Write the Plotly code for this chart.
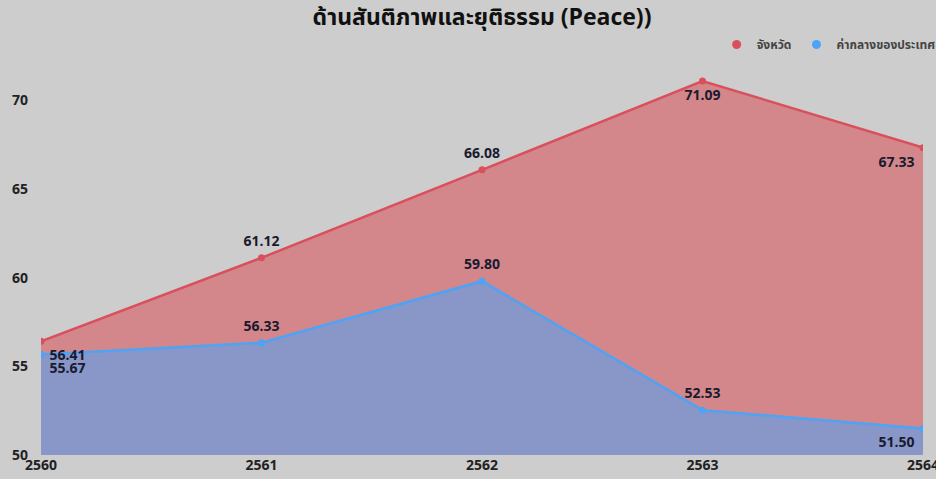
import plotly.graph_objects as go

years = ["2560", "2561", "2562", "2563", "2564"]
province = [56.41, 61.12, 66.08, 71.09, 67.33]
national = [55.67, 56.33, 59.80, 52.53, 51.50]
series_names = ["จังหวัด", "ค่ากลางของประเทศ"]
title_text = "ด้านสันติภาพและยุติธรรม (Peace))"
ytick_vals = [50, 55, 60, 65, 70]

x_idx = list(range(len(years)))
font_fam = "Noto Sans Thai, Noto Sans, Open Sans, sans-serif"
red = "#d9505c"
blue = "#4da3f5"
lbl_font = dict(size=14, color="#1a1a2e", family=font_fam, weight="bold")

fig = go.Figure()
fig.add_trace(go.Scatter(
    x=x_idx, y=province, name=series_names[0], mode="lines+markers",
    line=dict(color=red, width=2.5), marker=dict(size=7, color=red),
    fill="tozeroy", fillcolor="#d3878b", showlegend=False,
))
fig.add_trace(go.Scatter(
    x=x_idx, y=national, name=series_names[1], mode="lines+markers",
    line=dict(color=blue, width=2.5), marker=dict(size=7, color=blue),
    fill="tozeroy", fillcolor="#8896c8", showlegend=False,
))
# data labels drawn on top
fig.add_trace(go.Scatter(
    x=x_idx, y=province, mode="markers+text", showlegend=False, cliponaxis=False, hoverinfo="skip",
    marker=dict(size=12, opacity=0),
    text=[f"{v:.2f}" for v in province],
    textposition=["bottom right", "top center", "top center", "bottom center", "bottom left"],
    textfont=lbl_font,
))
fig.add_trace(go.Scatter(
    x=x_idx, y=national, mode="markers+text", showlegend=False, cliponaxis=False, hoverinfo="skip",
    marker=dict(size=12, opacity=0),
    text=[f"{v:.2f}" for v in national],
    textposition=["bottom right", "top center", "top center", "top center", "bottom left"],
    textfont=lbl_font,
))
# legend entries (circle markers only)
for nm, col in zip(series_names, [red, blue]):
    fig.add_trace(go.Scatter(x=[None], y=[None], name=nm, mode="markers",
                             marker=dict(size=9, color=col), showlegend=True))

fig.update_layout(
    width=936, height=479,
    paper_bgcolor="#cdcdcd", plot_bgcolor="#cdcdcd",
    margin=dict(l=41, r=13, t=40, b=24, autoexpand=False),
    title=dict(text=title_text, xref="container", x=0.515, xanchor="center",
               yref="container", y=0.9645, yanchor="middle",
               font=dict(size=23, color="#111", family=font_fam, weight="bold")),
    showlegend=True,
    legend=dict(orientation="h", xref="paper", x=1.02, xanchor="right",
                yref="paper", y=1.024, yanchor="top",
                font=dict(size=12, color="#444", family=font_fam, weight="bold"),
                itemwidth=30, bgcolor="rgba(0,0,0,0)", traceorder="normal",
                tracegroupgap=0),
    font=dict(family=font_fam),
)
fig.update_xaxes(
    tickvals=x_idx, ticktext=years, range=[0, 4], showgrid=False, zeroline=False,
    tickfont=dict(size=14, color="#222", family=font_fam, weight="bold"),
    ticks="", showline=False, automargin=False, ticklabeloverflow="allow",
)
fig.update_yaxes(
    range=[50, 73.4], tickvals=ytick_vals, showgrid=False, zeroline=False,
    tickfont=dict(size=14, color="#222", family=font_fam, weight="bold"),
    ticks="", showline=False, ticklabelstandoff=12, automargin=False,
)
fig.write_html("out.html", config={"displayModeBar": False},
               post_script="document.body.style.margin='0';document.body.style.overflow='hidden';")
